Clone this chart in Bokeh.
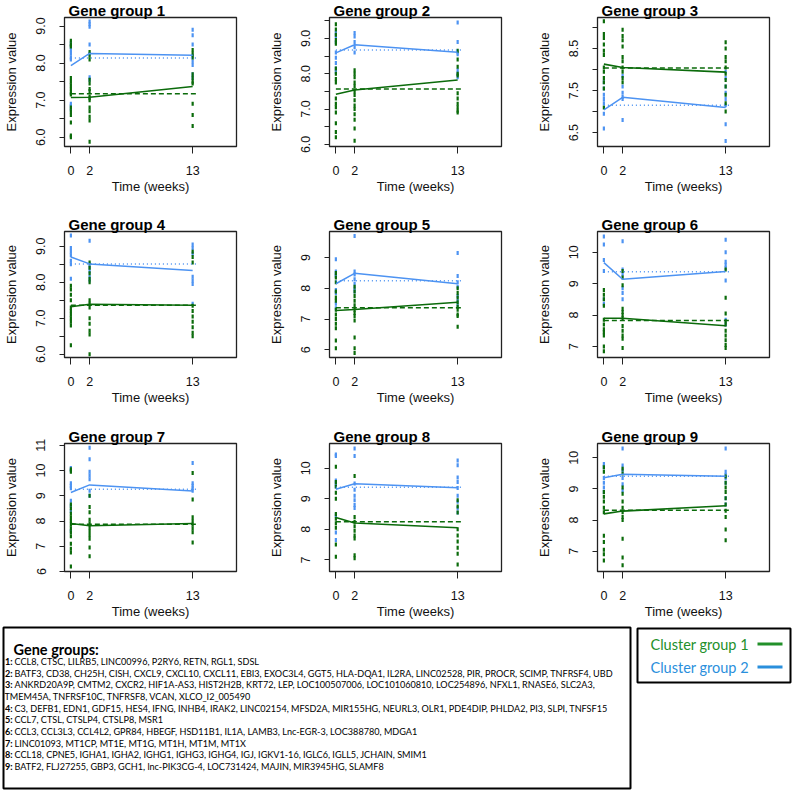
from bokeh.plotting import figure
from bokeh.layouts import row, column
from bokeh.models import Range1d, FixedTicker
from bokeh.embed import file_html
from bokeh.resources import INLINE
from bokeh.core.properties import value

# ---------------- data ----------------
TIMES = [0, 2, 13]
X_LIM = [0, 17]
REF_X = [0, 13.5]   # extent of the horizontal reference lines

TITLES = ["Gene group 1", "Gene group 2", "Gene group 3",
          "Gene group 4", "Gene group 5", "Gene group  6",
          "Gene group 7", "Gene group 8", "Gene group  9"]

# cluster group 1 (green) / cluster group 2 (blue) values per time point [t0, t2, t13]
P1_C1 = [[8.6, 8.5, 8.45, 7.6, 7.5, 7.4, 7.3, 7.2, 7.15, 6.8, 6.7, 6.6, 6.4, 6.05, 6.0],
         [8.3, 8.2, 8.1, 7.55, 7.45, 7.3, 7.25, 7.1, 7.05, 7.0, 6.8, 6.7, 6.55, 6.45, 5.88],
         [8.35, 8.25, 8.15, 7.7, 7.6, 7.5, 7.45, 6.9, 6.6, 6.3]]
P1_C2 = [[8.55, 8.45, 8.35, 8.25, 8.15, 8.1, 6.9, 6.85, 6.75],
         [9.12, 9.05, 8.98, 8.5, 8.25, 7.62, 7.55],
         [8.9, 8.75, 8.5, 8.2, 8.05, 7.95, 7.7, 7.6]]
P2_C1 = [[9.4, 9.25, 9.1, 8.95, 8.85, 8.15, 8.0, 7.85, 7.75, 7.3, 7.15, 7.05, 6.9, 6.6, 6.35, 6.2],
         [8.1, 8.0, 7.9, 7.75, 7.65, 7.5, 7.4, 7.25, 7.1, 7.0, 6.85, 6.7, 6.45, 6.1],
         [8.65, 8.4, 8.2, 8.0, 7.95, 7.45, 7.3, 7.15, 7.05, 6.95, 6.9]]
P2_C2 = [[9.15, 9.05, 8.9, 8.6, 8.45, 8.3, 8.15, 8.05],
         [9.15, 9.05, 8.9, 8.75, 8.6],
         [9.45, 8.9, 8.6, 8.55, 8.1, 8.0, 7.9]]
P3_C1 = [[9.15, 8.85, 8.75, 8.6, 8.45, 8.35, 8.05, 7.95, 7.8, 7.7, 7.55, 7.1],
         [8.95, 8.8, 8.7, 8.55, 8.3, 8.2, 8.05, 7.95, 7.8, 7.7],
         [8.65, 8.5, 8.3, 8.2, 8.05, 7.9, 7.75, 7.6, 7.4, 7.2, 7.0]]
P3_C2 = [[7.7, 7.55, 7.4, 7.3, 7.2, 6.95, 6.6],
         [7.85, 7.6, 7.45, 7.35, 7.3, 6.8],
         [7.95, 7.8, 7.6, 7.45, 7.3, 7.15, 6.7, 6.3]]
P4_C1 = [[7.9, 7.8, 7.65, 7.5, 7.3, 7.2, 7.1, 7.0, 6.9, 6.8, 6.25],
         [8.55, 8.4, 8.25, 8.1, 8.0, 7.5, 7.4, 7.3, 7.0, 6.85, 6.65, 6.55, 6.0],
         [8.85, 8.7, 8.55, 7.35, 7.2, 7.05, 6.9, 6.75, 6.6, 6.5]]
P4_C2 = [[9.3, 8.95, 8.85, 8.75, 8.6, 8.5, 8.1],
         [9.15, 8.5, 8.4, 8.3, 8.15, 8.05],
         [9.05, 8.95, 8.8, 8.15, 8.05, 7.95, 7.4]]
P5_C1 = [[8.5, 8.35, 8.2, 7.9, 7.7, 7.6, 7.3, 7.15, 7.0, 6.85, 6.7, 6.3, 6.05],
         [8.05, 7.9, 7.75, 7.6, 7.45, 7.3, 7.2, 7.1, 6.95, 6.4, 6.05, 5.9],
         [8.0, 7.85, 7.7, 7.55, 7.4, 7.3, 7.15, 7.1, 6.75]]
P5_C2 = [[8.95, 8.55, 8.45, 8.4, 7.95, 7.85, 7.5, 7.35],
         [9.7, 8.55, 8.45, 8.3, 8.15, 8.0, 7.9],
         [9.15, 8.4, 8.2, 8.05, 7.75, 7.6, 7.45]]
P6_C1 = [[8.8, 8.65, 8.5, 8.3, 7.85, 7.7, 7.55, 7.45, 7.35, 7.0, 6.85],
         [9.4, 9.2, 8.95, 8.2, 8.1, 8.0, 7.9, 7.65, 7.5, 7.35, 7.25, 6.95],
         [9.45, 8.55, 8.05, 7.8, 7.7, 7.5, 7.35, 7.2, 7.05, 6.95]]
P6_C2 = [[10.5, 10.25, 9.75, 9.4, 8.5, 8.35],
         [10.35, 9.45, 9.3, 8.85, 8.7, 8.5],
         [10.4, 10.0, 9.7, 9.6, 9.5, 9.1, 7.85, 7.7]]
P7_C1 = [[10.05, 9.95, 8.65, 8.5, 8.3, 8.15, 8.0, 7.85, 7.7, 7.55, 7.4, 7.1, 6.9, 6.75, 6.2],
         [9.0, 8.55, 8.35, 8.05, 7.9, 7.75, 7.6, 7.45, 7.3, 6.95, 6.6],
         [9.9, 8.85, 8.15, 8.0, 7.85, 7.7, 7.55, 7.15]]
P7_C2 = [[10.1, 10.0, 9.5, 9.4, 9.3, 8.8, 8.6, 8.4, 7.6],
         [10.9, 10.45, 9.95, 9.8, 9.65, 9.2, 9.0],
         [10.3, 9.5, 9.4, 9.3, 9.2]]
P8_C1 = [[10.05, 9.55, 9.4, 9.2, 9.0, 8.5, 8.35, 8.2, 8.05, 7.5, 7.1],
         [9.75, 8.4, 8.25, 8.1, 7.95, 7.8, 7.7, 7.15, 7.05],
         [8.95, 8.75, 8.55, 8.0, 7.8, 7.6, 7.4, 7.2, 6.85]]
P8_C2 = [[10.45, 10.4, 9.6, 9.5, 9.4, 8.45, 7.9, 7.65],
         [10.65, 10.4, 9.5, 9.3, 9.1, 8.95, 8.8, 8.7],
         [10.25, 10.1, 9.7, 9.55, 9.35, 9.1, 8.9, 8.7, 8.55]]
P9_C1 = [[9.7, 9.55, 8.9, 8.75, 8.6, 8.4, 8.25, 7.5, 7.3, 7.05, 6.9, 6.7],
         [9.65, 9.5, 9.05, 8.85, 8.6, 8.4, 8.25, 8.1, 8.0, 7.4, 6.8, 6.55],
         [9.4, 9.2, 9.05, 8.9, 8.7, 8.5, 8.3, 8.1, 7.7, 7.35]]
P9_C2 = [[9.8, 9.7, 9.35, 9.2, 9.05, 8.9],
         [10.3, 9.75, 9.6, 9.35, 9.15, 8.95],
         [10.3, 9.55, 9.45, 9.35, 9.2, 8.7, 8.5]]

# mean lines (solid) per time point, and overall reference levels (dashed / dotted)
C1_MEANS = [[7.07, 7.08, 7.37], [7.42, 7.54, 7.82], [8.13, 8.05, 7.94],
            [7.32, 7.39, 7.36], [7.28, 7.31, 7.55], [7.90, 7.90, 7.66],
            [7.90, 7.81, 7.90], [8.39, 8.21, 8.05], [8.20, 8.29, 8.46]]
C2_MEANS = [[7.93, 8.26, 8.21], [8.59, 8.82, 8.61], [7.04, 7.34, 7.10],
            [8.70, 8.51, 8.33], [8.15, 8.49, 8.15], [9.67, 9.14, 9.39],
            [9.13, 9.43, 9.19], [9.31, 9.49, 9.36], [9.36, 9.47, 9.41]]
C1_REF = [7.17, 7.57, 8.04, 7.36, 7.37, 7.83, 7.87, 8.25, 8.32]
C2_REF = [8.14, 8.67, 7.15, 8.51, 8.25, 9.38, 9.26, 9.38, 9.41]

Y_LIMS = [(5.75, 9.23), (5.94, 9.59), (6.17, 9.24),
          (5.91, 9.41), (5.75, 9.85), (6.65, 10.66),
          (6.0, 11.07), (6.62, 10.81), (6.35, 10.46)]
Y_TICKS = [[6.0, 6.5, 7.0, 7.5, 8.0, 8.5, 9.0],
           [6.0, 6.5, 7.0, 7.5, 8.0, 8.5, 9.0, 9.5],
           [6.5, 7.0, 7.5, 8.0, 8.5, 9.0],
           [6.0, 6.5, 7.0, 7.5, 8.0, 8.5, 9.0],
           [6, 7, 8, 9], [7, 8, 9, 10], [6, 7, 8, 9, 10, 11], [7, 8, 9, 10], [7, 8, 9, 10]]
Y_LABELS = [["6.0", "", "7.0", "", "8.0", "", "9.0"],
            ["6.0", "", "7.0", "", "8.0", "", "9.0", ""],
            ["6.5", "", "7.5", "", "8.5", ""],
            ["6.0", "", "7.0", "", "8.0", "", "9.0"],
            ["6", "7", "8", "9"], ["7", "8", "9", "10"], ["6", "7", "8", "9", "10", "11"],
            ["7", "8", "9", "10"], ["7", "8", "9", "10"]]

GROUP_PREFIX = ["1:", "2:", "3:", "", "4:", "5:", "6:", "7:", "8:", "9:"]
GROUP_GENES = [
    "CCL8, CTSC, LILRB5, LINC00996, P2RY6, RETN, RGL1, SDSL",
    "BATF3, CD38, CH25H, CISH, CXCL9, CXCL10, CXCL11, EBI3, EXOC3L4, GGT5, HLA-DQA1, IL2RA, LINC02528, PIR, PROCR, SCIMP, TNFRSF4, UBD",
    "ANKRD20A9P, CMTM2, CXCR2, HIF1A-AS3, HIST2H2B, KRT72, LEP, LOC100507006, LOC101060810, LOC254896, NFXL1, RNASE6, SLC2A3,",
    "TMEM45A, TNFRSF10C, TNFRSF8, VCAN, XLCO_I2_005490",
    "C3, DEFB1, EDN1, GDF15, HES4, IFNG, INHB4, IRAK2, LINC02154, MFSD2A, MIR155HG, NEURL3, OLR1, PDE4DIP, PHLDA2, PI3, SLPI, TNFSF15",
    "CCL7, CTSL, CTSLP4, CTSLP8,  MSR1",
    "CCL3, CCL3L3, CCL4L2, GPR84, HBEGF, HSD11B1, IL1A, LAMB3, Lnc-EGR-3, LOC388780, MDGA1",
    "LINC01093, MT1CP, MT1E, MT1G, MT1H, MT1M, MT1X",
    "CCL18, CPNE5, IGHA1, IGHA2, IGHG1, IGHG3, IGHG4, IGJ, IGKV1-16, IGLC6, IGLL5, JCHAIN, SMIM1",
    "BATF2, FLJ27255, GBP3, GCH1, lnc-PIK3CG-4, LOC731424, MAJIN, MIR3945HG, SLAMF8",
]
LEGEND_LABELS = ["Cluster group 1", "Cluster group 2"]

PANEL_C1 = [P1_C1, P2_C1, P3_C1, P4_C1, P5_C1, P6_C1, P7_C1, P8_C1, P9_C1]
PANEL_C2 = [P1_C2, P2_C2, P3_C2, P4_C2, P5_C2, P6_C2, P7_C2, P8_C2, P9_C2]

# ---------------- style ----------------
FONT = "Liberation Sans"
GREEN = "#0b6b0b"
BLUE = "#4d93f2"
LEG_GREEN = "#22902a"
LEG_BLUE = "#2a8fdc"

COL_W = [265, 265, 262]
COL_BL = [62, 63, 67]
COL_BR = [29, 29, 23]
ROW_H = [213, 212, 197]
ROW_BT = [17, 18, 18]
ROW_BB = [67, 68, 51]
BOTTOM_H = 170


def make_panel(i):
    r, c = divmod(i, 3)
    pad = 0.04 * (X_LIM[1] - X_LIM[0])
    p = figure(width=COL_W[c], height=ROW_H[r], output_backend="svg", toolbar_location=None,
               x_range=Range1d(X_LIM[0] - pad, X_LIM[1] + pad),
               y_range=Range1d(*Y_LIMS[i]),
               min_border_left=COL_BL[c], min_border_right=COL_BR[c],
               min_border_top=ROW_BT[r], min_border_bottom=ROW_BB[r],
               title=TITLES[i])
    p.title.text_font = FONT
    p.title.text_font_size = "15px"
    p.title.text_font_style = "bold"
    p.title.text_color = "black"
    p.title.align = "left"
    p.title.offset = 4
    p.title.standoff = -3
    p.grid.visible = False
    p.outline_line_color = "#222222"
    p.outline_line_width = 1.3
    p.background_fill_color = "white"
    p.border_fill_color = "white"

    xa = p.xaxis[0]
    xa.ticker = FixedTicker(ticks=TIMES)
    xa.axis_label = "Time (weeks)"
    ya = p.yaxis[0]
    ya.ticker = FixedTicker(ticks=Y_TICKS[i])
    ya.major_label_overrides = {t: l for t, l in zip(Y_TICKS[i], Y_LABELS[i])}
    ya.major_label_orientation = "vertical"
    ya.axis_label = "Expression value"
    for ax in (xa, ya):
        ax.axis_line_color = None
        ax.major_tick_in = 0
        ax.minor_tick_line_color = None
        ax.major_tick_line_color = "#222222"
        ax.major_label_text_font = FONT
        ax.major_label_text_font_size = "12.5px"
        ax.major_label_text_color = "#111111"
        ax.axis_label_text_font = FONT
        ax.axis_label_text_font_size = "13px"
        ax.axis_label_text_font_style = "normal"
        ax.axis_label_text_color = "#111111"
    xa.major_tick_out = 7
    xa.major_label_standoff = 12
    xa.axis_label_standoff = 1
    ya.major_tick_out = 5
    ya.major_label_standoff = 14
    ya.axis_label_standoff = 15

    for k, t in enumerate(TIMES):
        vals = PANEL_C2[i][k]
        p.scatter([t] * len(vals), vals, marker="dash", size=4, angle=1.5708,
                  line_color=BLUE, line_width=2.2)
    for k, t in enumerate(TIMES):
        vals = PANEL_C1[i][k]
        p.scatter([t] * len(vals), vals, marker="dash", size=4, angle=1.5708,
                  line_color=GREEN, line_width=2.2)

    p.line(TIMES, C2_MEANS[i], line_color=BLUE, line_width=1.5)
    p.line(TIMES, C1_MEANS[i], line_color=GREEN, line_width=1.6)
    p.line(REF_X, [C2_REF[i]] * 2, line_color=BLUE, line_width=1.5, line_dash="1 3")
    p.line(REF_X, [C1_REF[i]] * 2, line_color=GREEN, line_width=1.5, line_dash="5 3")
    return p


panels = [make_panel(i) for i in range(9)]

# ---------------- bottom: gene group text box + legend box ----------------
# the bottom figure uses page pixel coordinates (x to the right, y downwards)
Y0 = sum(ROW_H)
bt = figure(width=sum(COL_W), height=BOTTOM_H, output_backend="svg", toolbar_location=None,
            x_range=Range1d(0, sum(COL_W)), y_range=Range1d(Y0 + BOTTOM_H, Y0),
            min_border_left=0, min_border_right=0, min_border_top=0, min_border_bottom=0)
bt.axis.visible = False
bt.grid.visible = False
bt.outline_line_color = None
bt.background_fill_color = "white"
bt.border_fill_color = "white"

# frames of the two boxes
bt.quad(left=[3, 637], right=[630, 790], top=[627, 628], bottom=[788, 682],
        fill_color=None, line_color="black", line_width=2)

bt.text(x=[13], y=[649], text=["Gene groups:"], text_font=value("Lato"),
        text_font_size="14.5px", text_font_style="bold", text_baseline="middle",
        text_color="black")
line_y = [661 + 11.67 * k for k in range(len(GROUP_GENES))]
bt.text(x=[4.5] * len(GROUP_PREFIX), y=line_y, text=GROUP_PREFIX, text_font=value("Lato"),
        text_font_size="9.1px", text_font_style="bold", text_baseline="middle",
        text_color="black")
gene_x = [14 if pre else 4 for pre in GROUP_PREFIX]
bt.text(x=gene_x, y=line_y, text=GROUP_GENES, text_font=value("Lato"),
        text_font_size="9.1px", text_baseline="middle", text_color="black")

leg_y = [643.5, 666.5]
bt.text(x=[650, 650], y=leg_y, text=LEGEND_LABELS, text_font=value("Lato"),
        text_font_size="14.5px", text_baseline="middle",
        text_color=[LEG_GREEN, LEG_BLUE])
bt.segment(x0=[757, 757], y0=leg_y, x1=[782, 782], y1=leg_y,
           line_color=[LEG_GREEN, LEG_BLUE], line_width=3)

layout = column(row(*panels[0:3]), row(*panels[3:6]), row(*panels[6:9]), bt)

with open("out.html", "w") as f:
    f.write(file_html(layout, INLINE))
